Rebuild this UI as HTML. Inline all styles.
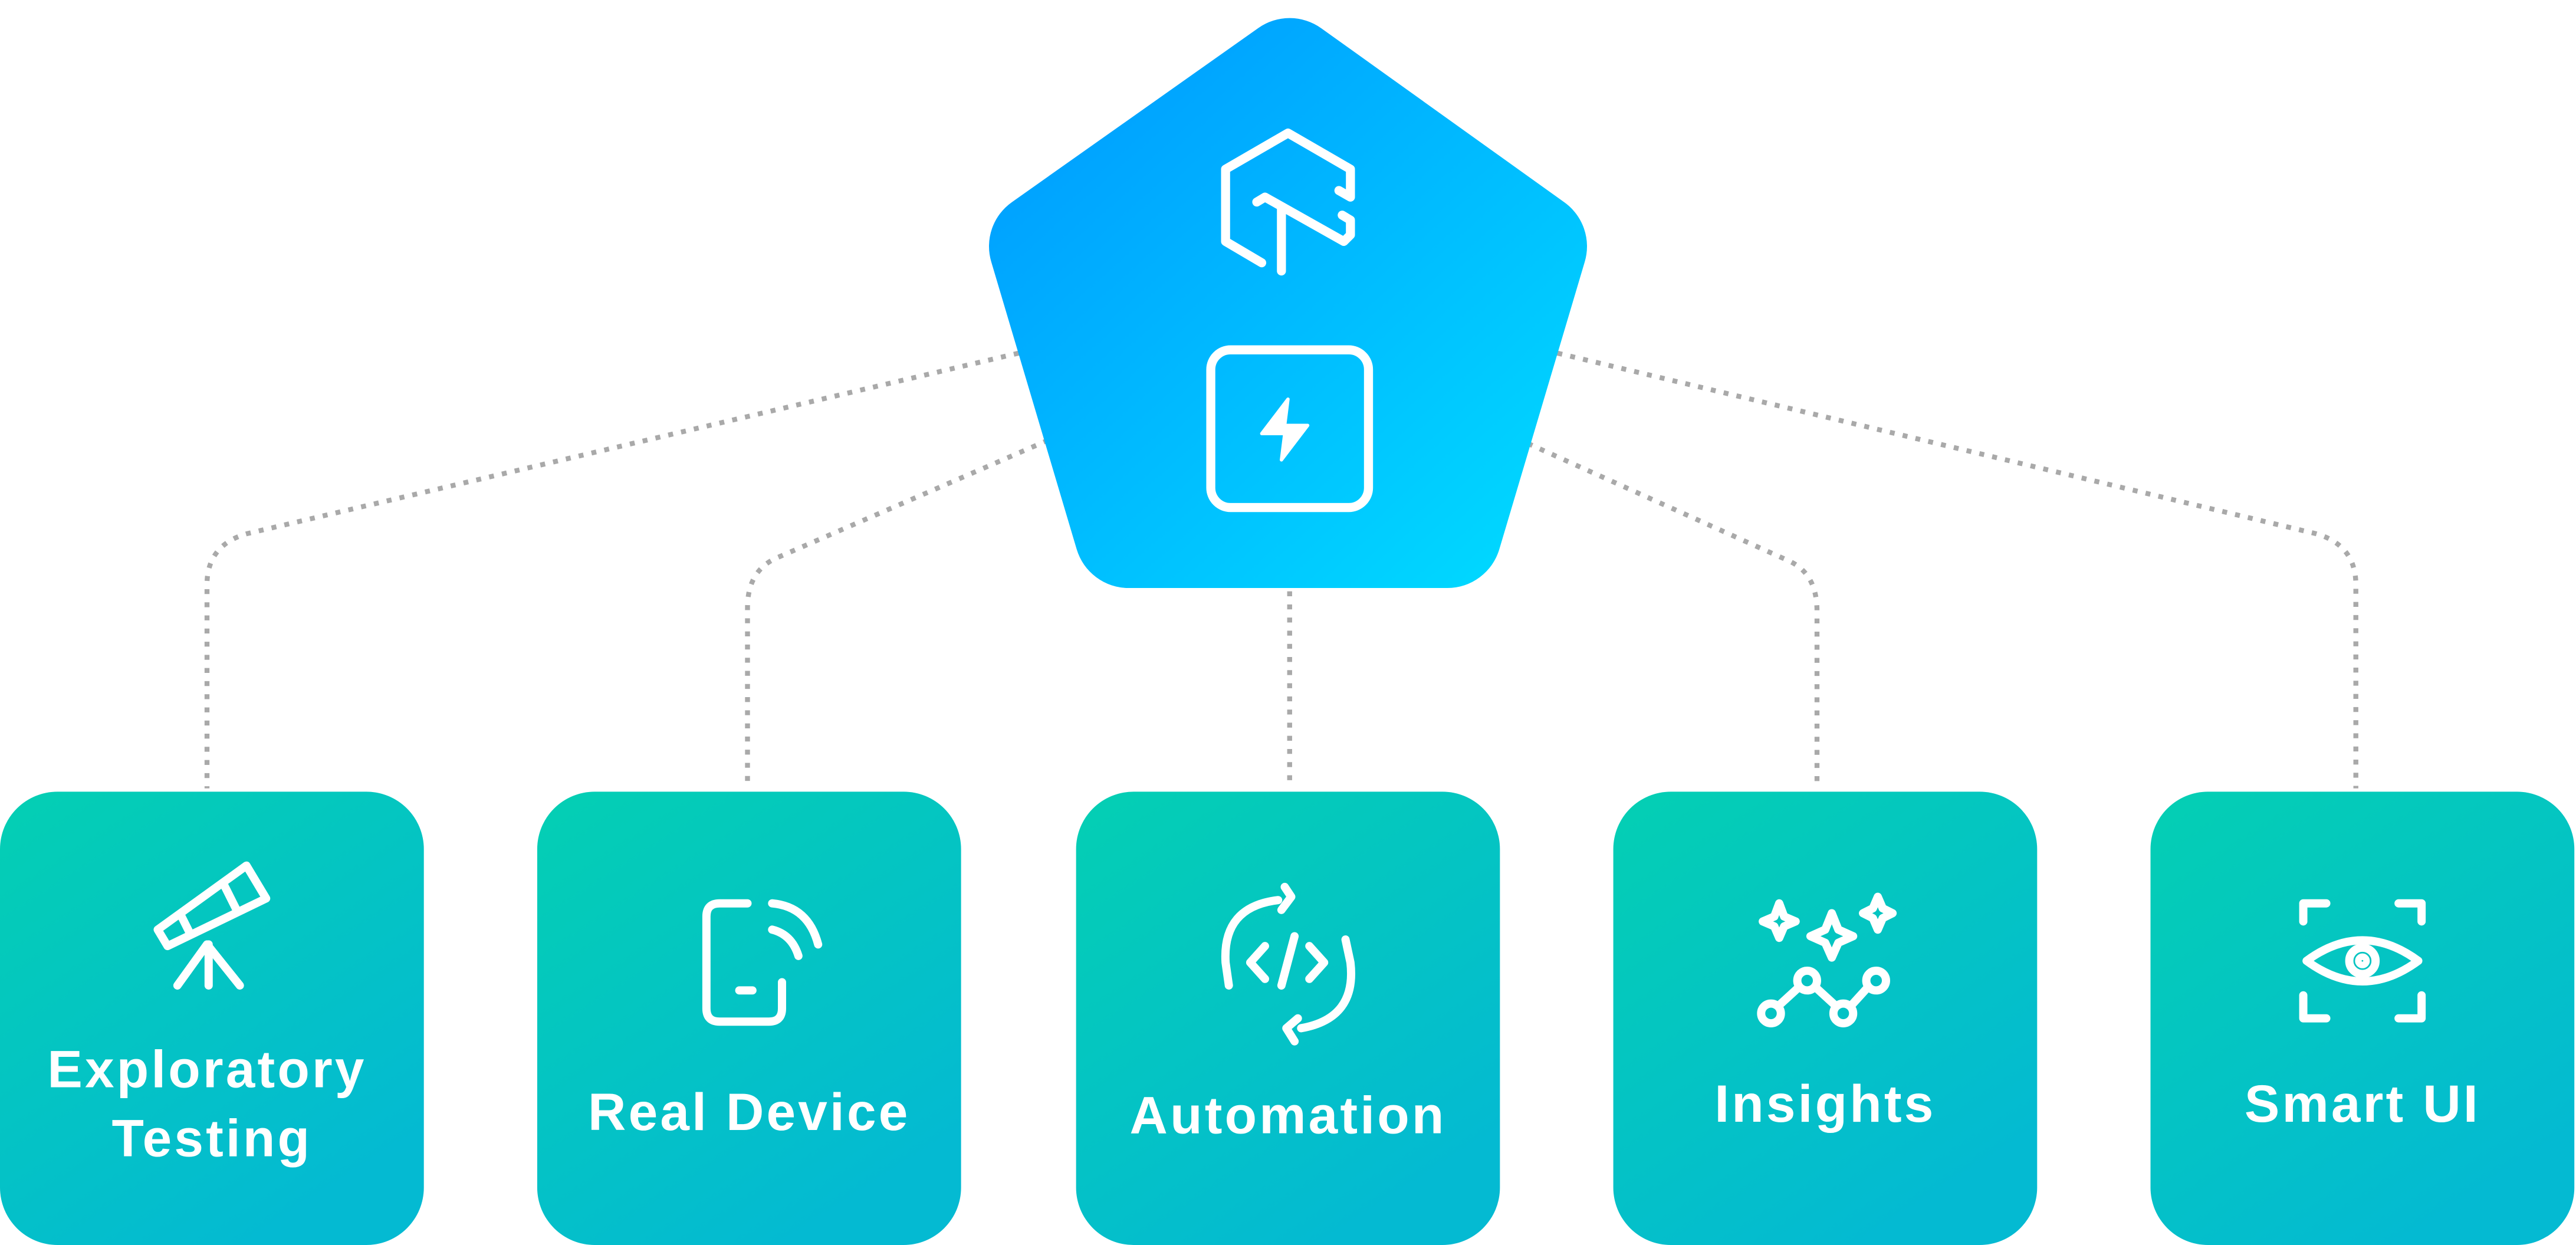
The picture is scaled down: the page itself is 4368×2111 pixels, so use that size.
<!DOCTYPE html>
<html><head><meta charset="utf-8"><style>
html,body{margin:0;padding:0;background:#fff;}
svg{display:block;}
text{font-family:"Liberation Sans",sans-serif;font-weight:bold;fill:#fff;text-anchor:middle;font-size:32px;letter-spacing:1.5px;}
</style></head><body>
<svg width="4368" height="2111" viewBox="0 0 1568 758" preserveAspectRatio="none" xmlns="http://www.w3.org/2000/svg">
<defs>
<linearGradient id="pg" gradientUnits="userSpaceOnUse" x1="650" y1="60" x2="920" y2="360">
<stop offset="0" stop-color="#00a0ff"/><stop offset="1" stop-color="#00d9ff"/></linearGradient>
<linearGradient id="bg" x1="0" y1="0" x2="0.6" y2="1">
<stop offset="0" stop-color="#04cfb3"/><stop offset="1" stop-color="#04bad2"/></linearGradient>
</defs>
<g fill="none" stroke="#a9a9a9" stroke-width="3" stroke-dasharray="3 5">
<path d="M620 215 L150 325 Q126 332 126 356 L126 480"/>
<path d="M638 268 L472 340 Q455 348 455 370 L455 480"/>
<path d="M785 360 L785 480"/>
<path d="M948 215 L1410 325 Q1434 332 1434 356 L1434 480"/>
<path d="M930 270 L1090 342 Q1106 350 1106 372 L1106 480"/>
</g>
<polygon points="785,44 635,150 687,325 881,325 933,150" fill="url(#pg)" stroke="url(#pg)" stroke-width="66" stroke-linejoin="round"/>
<g fill="none" stroke="#fff" stroke-width="5.5" stroke-linejoin="round" stroke-linecap="round">
<path d="M768 160 L746 147 L746 103 L784 81 L822 103 L822 120 L815 116"/>
<path d="M765 123 L770 120 L818 147 L822 143 L822 134 L817 131"/>
<path d="M780 126 L780 165"/>
<rect x="737" y="213" width="96" height="96" rx="12"/>
</g>
<path d="M784 243 L768 264 L782 264 L780 280 L796 259 L782 259 Z" fill="#fff" stroke="#fff" stroke-width="2" stroke-linejoin="round"/>
<g fill="url(#bg)">
<rect x="0" y="482" width="258" height="276" rx="35"/>
<rect x="327" y="482" width="258" height="276" rx="35"/>
<rect x="655" y="482" width="258" height="276" rx="35"/>
<rect x="982" y="482" width="258" height="276" rx="35"/>
<rect x="1309" y="482" width="258" height="276" rx="35"/>
</g>
<text x="126" y="662">Exploratory</text>
<text x="129" y="704">Testing</text>
<text x="456" y="688">Real Device</text>
<text x="784" y="690">Automation</text>
<text x="1111" y="683">Insights</text>
<text x="1438" y="683">Smart UI</text>
<g fill="none" stroke="#fff" stroke-width="5" stroke-linecap="round" stroke-linejoin="round">
<path d="M96 566 L150 527 L162 547 L102 576 Z M110 557 L116 569 M136 538 L144 554"/>
<path d="M108 600 L126 575 L146 600 M127 575 L127 600"/>
<path d="M455 550 L438 550 Q430 550 430 558 L430 614 Q430 622 438 622 L468 622 Q476 622 476 614 L476 598 M450 603 L458 603"/>
<path d="M470 550 Q492 552 498 575 M470 566 Q482 569 486 582"/>
<path d="M778 548 Q744 552 746 586 L748 600 M782 540 L786 546 L780 554"/>
<path d="M792 626 Q826 620 822 586 L819 572 M788 634 L783 626 L790 620"/>
<path d="M770 576 L761 586 L770 596 M797 576 L806 586 L797 596 M788 570 L780 600"/>
<circle cx="1078" cy="617" r="6"/><circle cx="1100" cy="597" r="6"/><circle cx="1122" cy="617" r="6"/><circle cx="1142" cy="597" r="6"/>
<path d="M1083 612 L1095 601 M1105 601 L1117 612 M1127 612 L1137 601"/>
<path d="M1083 550 L1086 558 L1093 561 L1086 564 L1083 571 L1080 564 L1073 561 L1080 558 Z"/>
<path d="M1115 556 L1119 566 L1128 570 L1119 574 L1115 583 L1111 574 L1102 570 L1111 566 Z"/>
<path d="M1143 546 L1146 553 L1152 556 L1146 559 L1143 566 L1140 559 L1134 556 L1140 553 Z"/>
<path d="M1402 561 L1402 550 L1416 550 M1460 550 L1474 550 L1474 561 M1402 606 L1402 620 L1416 620 M1460 620 L1474 620 L1474 606"/>
<path d="M1404 585 Q1438 560 1472 585 Q1438 610 1404 585 Z"/>
<circle cx="1438" cy="585" r="8"/><circle cx="1438" cy="585" r="2"/>
</g>
</svg>
</body></html>
